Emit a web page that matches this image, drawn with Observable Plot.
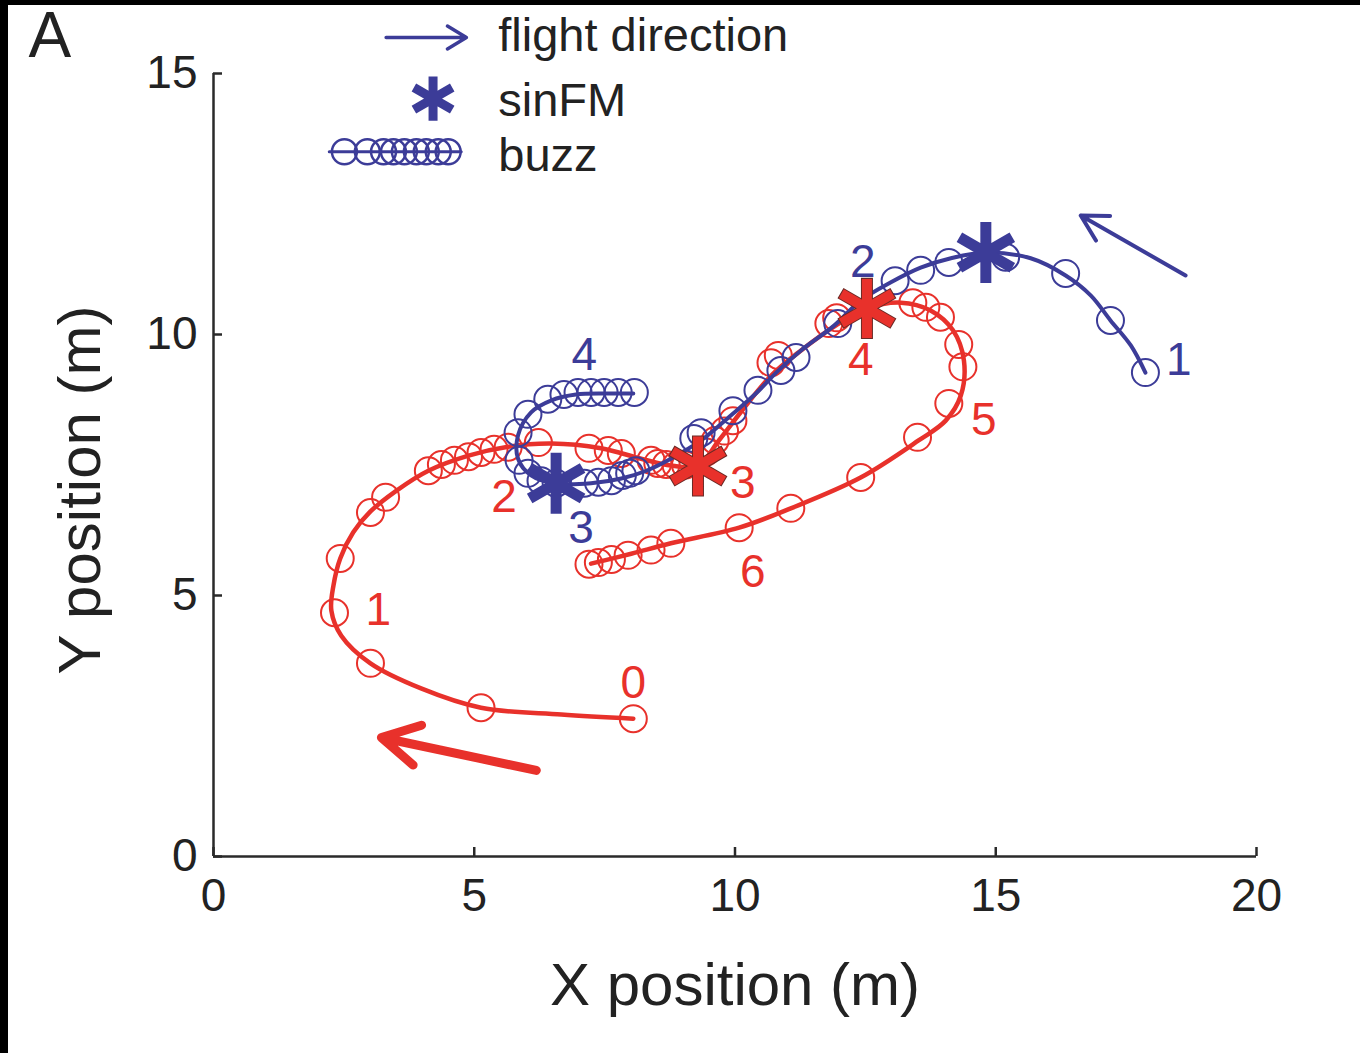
<!DOCTYPE html>
<html>
<head>
<meta charset="utf-8">
<script src="https://cdn.jsdelivr.net/npm/d3@7"></script>
<script src="https://cdn.jsdelivr.net/npm/@observablehq/plot@0.6"></script>
<style>
  html, body { margin: 0; padding: 0; background: #000; }
  #wrap { position: absolute; left: 8px; top: 5px; width: 1352px; height: 1048px; background: #fff; }
  svg { font-family: Arial, "Liberation Sans", Helvetica, sans-serif; }
</style>
</head>
<body>
<div id="wrap"></div>
<script>
// ---- data (metres) ----
const xTicks = [0, 5, 10, 15, 20];
const yTicks = [0, 5, 10, 15];

// red bat trajectory
const redPathX = [8.05, 6.67, 5.13, 3.98, 3.01, 2.45, 2.26, 2.30, 2.43, 2.68, 3.01, 3.51, 4.12, 4.89, 5.65, 6.48, 7.43, 8.20, 8.77, 9.29, 9.69, 10.11, 10.69, 11.26, 11.93, 12.53, 13.18, 13.75, 14.18, 14.39, 14.33, 14.04, 13.52, 12.41, 11.07, 10.08, 8.77, 8.01, 7.24];
const redPathY = [2.64, 2.72, 2.85, 3.22, 3.70, 4.23, 4.71, 5.19, 5.71, 6.21, 6.61, 7.01, 7.39, 7.68, 7.85, 7.91, 7.82, 7.62, 7.49, 7.49, 7.97, 8.51, 9.21, 9.69, 10.17, 10.50, 10.61, 10.46, 10.08, 9.50, 8.83, 8.35, 7.97, 7.26, 6.67, 6.30, 6.00, 5.80, 5.61];
// red call positions
const redCallX = [8.05, 5.13, 3.01, 2.32, 2.43, 3.01, 3.30, 4.12, 4.37, 4.62, 4.89, 5.13, 5.38, 5.65, 6.23, 7.20, 7.57, 7.82, 8.39, 8.52, 8.68, 8.87, 9.05, 9.45, 9.62, 9.80, 9.96, 10.69, 10.83, 11.80, 11.95, 13.41, 13.66, 13.94, 14.29, 14.37, 14.10, 13.50, 12.41, 11.07, 10.08, 8.77, 8.39, 7.95, 7.63, 7.38, 7.20];
const redCallY = [2.64, 2.85, 3.70, 4.67, 5.71, 6.59, 6.88, 7.39, 7.51, 7.59, 7.66, 7.74, 7.80, 7.84, 7.93, 7.82, 7.78, 7.72, 7.59, 7.53, 7.51, 7.49, 7.50, 7.75, 7.97, 8.15, 8.35, 9.46, 9.60, 10.21, 10.32, 10.61, 10.52, 10.33, 9.81, 9.38, 8.68, 8.03, 7.26, 6.67, 6.30, 6.00, 5.87, 5.77, 5.69, 5.63, 5.60];

// blue bat trajectory
const bluePathX = [17.87, 17.59, 17.20, 16.82, 16.34, 15.67, 14.81, 14.14, 13.56, 12.99, 12.41, 11.90, 11.26, 10.79, 10.40, 9.92, 9.35, 8.77, 8.30, 7.82, 7.24, 6.53, 6.09, 5.84, 5.84, 6.09, 6.48, 6.95, 7.53, 8.05];
const bluePathY = [9.27, 9.79, 10.27, 10.75, 11.13, 11.46, 11.57, 11.46, 11.28, 11.00, 10.65, 10.17, 9.69, 9.27, 8.87, 8.45, 7.97, 7.62, 7.39, 7.24, 7.15, 7.15, 7.30, 7.62, 8.07, 8.51, 8.74, 8.85, 8.87, 8.87];
// blue call positions
const blueCallX = [17.87, 17.20, 16.34, 15.19, 14.10, 13.56, 13.07, 11.97, 11.17, 10.88, 10.44, 9.96, 9.35, 9.21, 8.10, 7.98, 7.84, 7.63, 7.38, 7.11, 6.57, 6.28, 6.03, 5.86, 5.84, 6.03, 6.41, 6.72, 6.99, 7.24, 7.49, 7.76, 8.07];
const blueCallY = [9.27, 10.27, 11.17, 11.48, 11.38, 11.23, 11.03, 10.21, 9.56, 9.31, 8.93, 8.54, 8.12, 8.01, 7.39, 7.34, 7.30, 7.20, 7.17, 7.15, 7.15, 7.20, 7.34, 7.59, 8.12, 8.47, 8.76, 8.85, 8.89, 8.89, 8.89, 8.89, 8.89];

// sinFM call positions
const redStarX = [12.53, 9.29];
const redStarY = [10.50, 7.48];
const blueStarX = [14.81, 6.57];
const blueStarY = [11.57, 7.15];

// time labels (s)
const redLabelText = ["0", "1", "2", "3", "4", "5", "6"];
const redLabelX = [8.05, 3.16, 5.57, 10.15, 12.41, 14.77, 10.34];
const redLabelY = [3.31, 4.71, 6.88, 7.15, 9.50, 8.35, 5.44];
const blueLabelText = ["1", "2", "3", "4"];
const blueLabelX = [18.51, 12.45, 7.05, 7.11];
const blueLabelY = [9.50, 11.38, 6.28, 9.60];

// flight direction arrows
const redArrow = {x1: 6.19, y1: 1.65, x2: 3.22, y2: 2.28};
const blueArrow = {x1: 18.64, y1: 11.13, x2: 16.63, y2: 12.28};

// legend
const legendArrow = {x1: 3.31, y1: 15.69, x2: 4.85, y2: 15.69};
const legendText = ["flight direction", "sinFM", "buzz"];
const legendTextY = [15.72, 14.48, 13.43];
const legendTextX = 5.46;
const legendStar = {x: 4.21, y: 14.52};
const legendBuzzX = [2.51, 2.95, 3.26, 3.45, 3.66, 3.89, 4.08, 4.31, 4.50];
const legendBuzzY = 13.50;
const legendBuzzLine = [[2.22, 13.50], [4.75, 13.50]];

// ---- build tables ----
const zip = (xs, ys) => xs.map((x, i) => ({x, y: ys[i]}));
const redPath = zip(redPathX, redPathY);
const redCalls = zip(redCallX, redCallY);
const bluePath = zip(bluePathX, bluePathY);
const blueCalls = zip(blueCallX, blueCallY);
const redStars = zip(redStarX, redStarY);
const blueStars = zip(blueStarX, blueStarY);
const redLabels = redLabelText.map((t, i) => ({t, x: redLabelX[i], y: redLabelY[i]}));
const blueLabels = blueLabelText.map((t, i) => ({t, x: blueLabelX[i], y: blueLabelY[i]}));
const legendTexts = legendText.map((t, i) => ({t, x: legendTextX, y: legendTextY[i]}));
const legendBuzz = legendBuzzX.map(x => ({x, y: legendBuzzY}));

const RED = "#e8312b";
const BLUE = "#3c3c98";
const AX = "#2a2a2a";
const FS = 46;

const chart = Plot.plot({
  width: 1352,
  height: 1048,
  marginLeft: 205,
  marginRight: 104,
  marginTop: 68,
  marginBottom: 197,
  style: {fontFamily: "Arial, 'Liberation Sans', sans-serif", background: "transparent", overflow: "visible"},
  x: {domain: [0, 20], ticks: xTicks},
  y: {domain: [0, 15], ticks: yTicks},
  marks: [
    // axes
    Plot.ruleX([0], {stroke: AX, strokeWidth: 2.5}),
    Plot.ruleY([0], {stroke: AX, strokeWidth: 2.5}),
    Plot.axisX({ticks: xTicks, tickSize: -9, tickFormat: () => "", stroke: AX, strokeWidth: 2.5, label: null}),
    Plot.axisY({ticks: yTicks, tickSize: -9, tickFormat: () => "", stroke: AX, strokeWidth: 2.5, label: null}),
    Plot.axisX({ticks: xTicks, tickSize: 0, tickPadding: 22, fontSize: FS, fill: "#222", label: null}),
    Plot.axisY({ticks: yTicks, tickSize: 0, tickPadding: 16, fontSize: FS, fill: "#222", label: null}),
    Plot.text(["X position (m)"], {frameAnchor: "bottom", dy: 148, fontSize: 60, fill: "#222"}),
    Plot.text(["Y position (m)"], {frameAnchor: "left", textAnchor: "middle", dx: -133, dy: 25, rotate: -90, fontSize: 60, fill: "#222"}),
    Plot.text(["A"], {frameAnchor: "top-left", dx: -185, dy: -62, fontSize: 64, fill: "#222"}),

    // red bat
    Plot.line(redPath, {x: "x", y: "y", stroke: RED, strokeWidth: 4.5, curve: "catmull-rom"}),
    Plot.dot(redCalls, {x: "x", y: "y", r: 13.5, stroke: RED, strokeWidth: 2, fill: "none"}),
    // blue bat
    Plot.line(bluePath, {x: "x", y: "y", stroke: BLUE, strokeWidth: 4, curve: "catmull-rom"}),
    Plot.dot(blueCalls, {x: "x", y: "y", r: 13.5, stroke: BLUE, strokeWidth: 2, fill: "none"}),

    // sinFM stars
    Plot.dot(redStars, {x: "x", y: "y", symbol: "asterisk", r: 29, stroke: "#6a2a26", strokeWidth: 12}),
    Plot.dot(redStars, {x: "x", y: "y", symbol: "asterisk", r: 28, stroke: RED, strokeWidth: 10}),
    Plot.dot(blueStars, {x: "x", y: "y", symbol: "asterisk", r: 29, stroke: BLUE, strokeWidth: 11}),

    // time labels
    Plot.text(redLabels, {x: "x", y: "y", text: "t", fontSize: FS, fill: RED}),
    Plot.text(blueLabels, {x: "x", y: "y", text: "t", fontSize: FS, fill: BLUE}),

    // direction arrows
    Plot.arrow([redArrow], {x1: "x1", y1: "y1", x2: "x2", y2: "y2", stroke: RED, strokeWidth: 9, headLength: 7, headAngle: 58}),
    Plot.arrow([blueArrow], {x1: "x1", y1: "y1", x2: "x2", y2: "y2", stroke: BLUE, strokeWidth: 4, headLength: 11, headAngle: 58}),

    // legend
    Plot.arrow([legendArrow], {x1: "x1", y1: "y1", x2: "x2", y2: "y2", stroke: BLUE, strokeWidth: 3.5, headLength: 9.5, headAngle: 62}),
    Plot.dot([legendStar], {x: "x", y: "y", symbol: "asterisk", r: 21, stroke: BLUE, strokeWidth: 9}),
    Plot.line(legendBuzzLine, {stroke: BLUE, strokeWidth: 3}),
    Plot.dot(legendBuzz, {x: "x", y: "y", r: 12.5, stroke: BLUE, strokeWidth: 2.5, fill: "none"}),
    Plot.text(legendTexts, {x: "x", y: "y", text: "t", textAnchor: "start", fontSize: 47, fill: "#222"})
  ]
});
document.getElementById("wrap").appendChild(chart);
</script>
</body>
</html>
